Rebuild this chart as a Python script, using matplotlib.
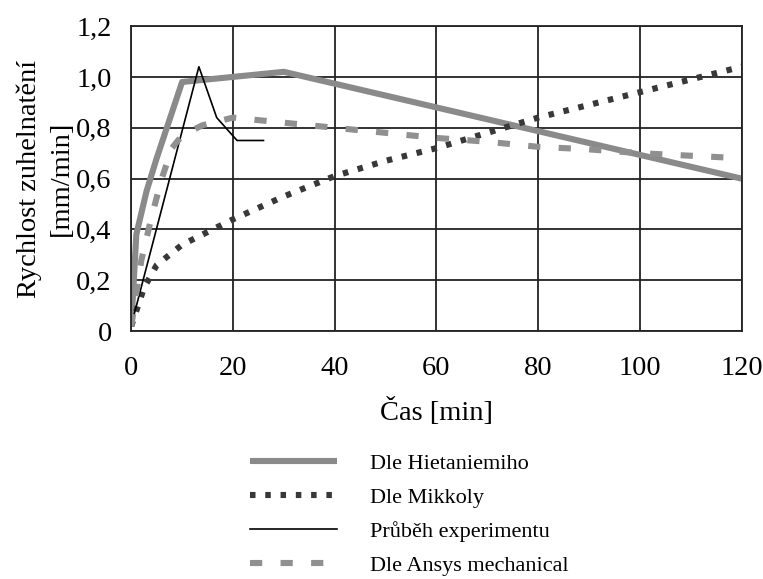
import matplotlib
matplotlib.use("Agg")
import matplotlib.pyplot as plt

from matplotlib import rcParams
rcParams["font.family"] = ["Liberation Serif", "DejaVu Serif"]
rcParams["font.size"] = 20.5

# Hietaniemi model
t_hiet = [0, 1, 3, 5, 7.5, 10, 30, 120]
v_hiet = [0.02, 0.38, 0.55, 0.68, 0.83, 0.98, 1.02, 0.60]

# Mikkola model
t_mikk = [0, 1, 2.5, 5, 7.5, 10, 15, 20, 30, 40, 50, 60, 70, 80, 90, 100, 110, 120]
v_mikk = [0.02, 0.08, 0.17, 0.26, 0.30, 0.34, 0.39, 0.44, 0.53, 0.61, 0.67,
          0.72, 0.78, 0.84, 0.89, 0.94, 0.99, 1.04]

# measured charring rate
t_exp = [0.1, 13.3, 16.8, 20.8, 26]
v_exp = [0.03, 1.04, 0.84, 0.75, 0.75]

# Ansys mechanical simulation
t_ans = [0, 2, 4, 6, 8, 10, 14, 20, 30, 40, 50, 60, 70, 80, 90, 100, 110, 120]
v_ans = [0.02, 0.28, 0.45, 0.60, 0.72, 0.77, 0.81, 0.84, 0.82, 0.80, 0.78,
         0.76, 0.745, 0.725, 0.715, 0.70, 0.69, 0.68]

fig = plt.figure(figsize=(7.63, 5.79), dpi=100)
ax = fig.add_axes([0.172, 0.428, 0.8, 0.527])

l1, = ax.plot(t_hiet, v_hiet, color="#8a8a8a", lw=4.4, solid_capstyle="butt",
              label="Dle Hietaniemiho")
l2, = ax.plot(t_mikk, v_mikk, color="#383838", lw=4.4, dashes=(0.9, 1.6),
              dash_capstyle="butt", label="Dle Mikkoly")
l3, = ax.plot(t_exp, v_exp, color="black", lw=1.2, label="Průběh experimentu")
l4, = ax.plot(t_ans, v_ans, color="#909090", lw=4.4, dashes=(2.0, 3.0),
              dash_capstyle="butt", label="Dle Ansys mechanical")

ax.set_xlim(0, 120)
ax.set_ylim(0, 1.2)
ax.set_xticks(range(0, 121, 20))
ax.set_yticks([0, 0.2, 0.4, 0.6, 0.8, 1.0, 1.2])
ax.set_yticklabels(["0", "0,2", "0,4", "0,6", "0,8", "1,0", "1,2"])
ax.tick_params(length=0)
ax.tick_params(axis="x", pad=18)
ax.tick_params(axis="y", pad=14)
ax.grid(True, color="#222222", lw=1.3)
for s in ax.spines.values():
    s.set_color("#222222")
    s.set_linewidth(1.3)

ax.set_xlabel("Čas [min]", labelpad=12)
ax.set_ylabel("Rychlost zuhelnatění\n[mm/min]", labelpad=2, linespacing=1.35)

fig.legend(handles=[l1, l2, l3, l4], loc="upper left",
           bbox_to_anchor=(0.328, 0.217), frameon=False, fontsize=16,
           handlelength=3.9, handletextpad=1.5, labelspacing=0.6,
           borderpad=0, borderaxespad=0)

fig.savefig("out.png", dpi=100)
